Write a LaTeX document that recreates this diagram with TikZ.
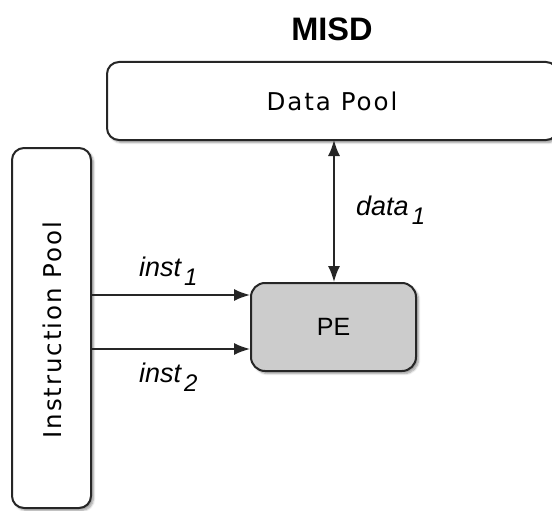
\documentclass[tikz,border=0pt]{standalone}
\usepackage{fontspec}
\setmainfont{Liberation Sans}
\newfontfamily\poolfont{DejaVu Sans}[LetterSpace=8]
\usetikzlibrary{arrows.meta,shadows.blur}

% subscripted italic label, e.g. inst_1
\newcommand{\sublabel}[2]{{\itshape\fontsize{27}{27}\selectfont #1\kern3pt\raisebox{-9pt}{\fontsize{24}{24}\selectfont #2}}}

\begin{document}
\begin{tikzpicture}[x=1pt,y=-1pt,
  poolbox/.style={draw=black!85,line width=2pt,rounded corners=12pt,fill=white,
    blur shadow={shadow xshift=2.5pt,shadow yshift=-2.5pt,shadow blur steps=6,shadow opacity=40}},
  pebox/.style={draw=black!85,line width=2pt,rounded corners=14pt,fill=black!20,
    blur shadow={shadow xshift=2.5pt,shadow yshift=-2.5pt,shadow blur steps=6,shadow opacity=40}},
  tip/.tip={Latex[length=16pt,width=12pt]},
  flow/.style={draw=black!85,line width=1.6pt,-tip},
  biflow/.style={draw=black!85,line width=1.6pt,tip-tip},
  lbl/.style={inner sep=0pt}]
\useasboundingbox (0,0) rectangle (552,511);

% title
\node[lbl,font=\bfseries\fontsize{32.5}{32.5}\selectfont] (title) at (332,29) {MISD};

% boxes
\path[poolbox] (107,62) rectangle (558,140);
\node[lbl,font=\poolfont\fontsize{24.5}{24.5}\selectfont] (data) at (332,101) {Data Pool};
\coordinate (dataS) at (334,140);

\path[poolbox] (12,148) rectangle (91,508);
\node[lbl,rotate=90,font=\poolfont\fontsize{24.5}{24.5}\selectfont] (instr) at (52,330) {Instruction Pool};
\coordinate (i1) at (91,295);
\coordinate (i2) at (91,349);

\node[pebox,minimum width=165pt,minimum height=88pt,font=\fontsize{25}{25}\selectfont] (pe) at (333.5,327) {PE};

% connectors
\draw[biflow] (dataS) -- (pe.north -| dataS);
\draw[flow] (i1) -- (i1 -| pe.west);
\draw[flow] (i2) -- (i2 -| pe.west);

% labels
\node[lbl,anchor=base west] (l1) at (139,276) {\sublabel{inst}{1}};
\node[lbl,anchor=base west] (l2) at (139,382) {\sublabel{inst}{2}};
\node[lbl,anchor=base west] (l3) at (356,215) {\sublabel{data}{1}};
\end{tikzpicture}
\end{document}
